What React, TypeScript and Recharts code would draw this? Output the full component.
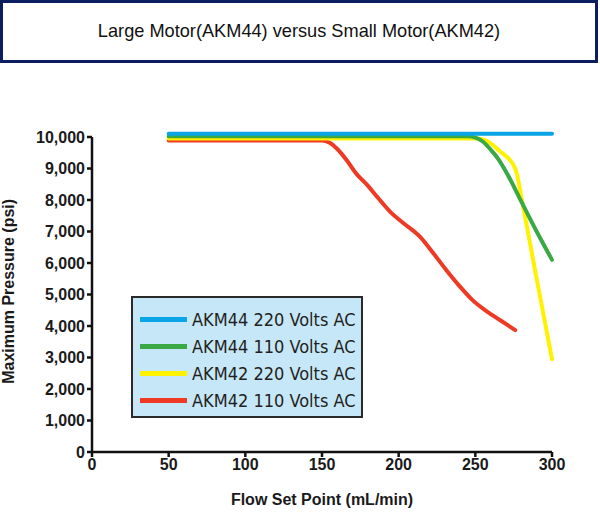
import { LineChart, Line, XAxis, YAxis, ReferenceLine } from "recharts";

type Pt = { flow: number; psi: number };

// readings taken off the reference plot
const akm44_220: Pt[] = [
  { flow: 50, psi: 10100 },
  { flow: 300, psi: 10100 },
];

const akm44_110: Pt[] = [
  { flow: 50, psi: 10020 },
  { flow: 245, psi: 10020 },
  { flow: 250, psi: 9980 },
  { flow: 255, psi: 9850 },
  { flow: 260, psi: 9600 },
  { flow: 265, psi: 9300 },
  { flow: 270, psi: 8900 },
  { flow: 280, psi: 7950 },
  { flow: 290, psi: 7000 },
  { flow: 300, psi: 6100 },
];

const akm42_220: Pt[] = [
  { flow: 50, psi: 9950 },
  { flow: 250, psi: 9950 },
  { flow: 255, psi: 9920 },
  { flow: 260, psi: 9800 },
  { flow: 266, psi: 9550 },
  { flow: 272, psi: 9300 },
  { flow: 275, psi: 9100 },
  { flow: 277, psi: 8850 },
  { flow: 280, psi: 8100 },
  { flow: 290, psi: 5500 },
  { flow: 300, psi: 2950 },
];

const akm42_110: Pt[] = [
  { flow: 50, psi: 9890 },
  { flow: 150, psi: 9890 },
  { flow: 155, psi: 9820 },
  { flow: 160, psi: 9620 },
  { flow: 166, psi: 9270 },
  { flow: 172, psi: 8860 },
  { flow: 180, psi: 8450 },
  { flow: 186, psi: 8100 },
  { flow: 195, psi: 7600 },
  { flow: 203, psi: 7270 },
  { flow: 214, psi: 6830 },
  { flow: 222, psi: 6350 },
  { flow: 231, psi: 5780 },
  { flow: 240, psi: 5250 },
  { flow: 248, psi: 4830 },
  { flow: 257, psi: 4480 },
  { flow: 266, psi: 4190 },
  { flow: 276, psi: 3870 },
];

const xTicks = [0, 50, 100, 150, 200, 250, 300];
const yTicks = [0, 1000, 2000, 3000, 4000, 5000, 6000, 7000, 8000, 9000, 10000];

const series = [
  { name: "AKM44 220 Volts AC", color: "#0aa5e6", data: akm44_220 },
  { name: "AKM44 110 Volts AC", color: "#3aa845", data: akm44_110 },
  { name: "AKM42 220 Volts AC", color: "#fff200", data: akm42_220 },
  { name: "AKM42 110 Volts AC", color: "#ee3a24", data: akm42_110 },
];

const axisColor = "#111";
const tickFont = { fontFamily: "Liberation Sans, Arial, sans-serif", fontSize: 16, fontWeight: 700, fill: "#1a1a1a" };

function LegendBox() {
  return (
    <div
      style={{
        position: "absolute",
        left: 131,
        top: 296,
        boxSizing: "border-box",
        width: 232,
        height: 122,
        border: "2px solid #2a2a2a",
        background: "#c6e7f8",
        padding: "8px 0 0 7px",
        fontFamily: "DejaVu Sans Condensed, DejaVu Sans, sans-serif",
        fontSize: 18,
        color: "#231f20",
      }}
    >
      {series.map((s) => (
        <div key={s.name} style={{ display: "flex", alignItems: "center", height: 27 }}>
          <span style={{ display: "inline-block", width: 47, height: 5, background: s.color, marginRight: 5 }} />
          <span style={{ whiteSpace: "nowrap" }}>{s.name}</span>
        </div>
      ))}
    </div>
  );
}

export default function App() {
  return (
    <div style={{ position: "absolute", left: 0, top: 0, width: 600, height: 517, background: "#fff" }}>
      <div
        style={{
          position: "absolute",
          left: 0,
          top: 0,
          width: 598,
          height: 63,
          boxSizing: "border-box",
          border: "3px solid #0b1f5e",
          display: "flex",
          alignItems: "center",
          justifyContent: "center",
          fontFamily: "Liberation Sans, Arial, sans-serif",
          fontSize: 18.2,
          color: "#111",
        }}
      >
        Large Motor(AKM44) versus Small Motor(AKM42)
      </div>
      <LineChart width={600} height={517} margin={{ top: 130.7, right: 48, bottom: 0, left: 0 }}>
        <XAxis
          type="number"
          dataKey="flow"
          domain={[0, 300]}
          ticks={xTicks}
          interval={0}
          height={65}
          tick={tickFont}
          tickSize={5}
          stroke={axisColor}
          strokeWidth={2.5}
          allowDuplicatedCategory={false}
          label={{
            value: "Flow Set Point (mL/min)",
            position: "insideBottom",
            offset: 12,
            style: { fontFamily: "Liberation Sans, Arial, sans-serif", fontSize: 16, fontWeight: 700, fill: "#1a1a1a" },
          }}
        />
        <YAxis
          type="number"
          dataKey="psi"
          domain={[0, 10200]}
          ticks={yTicks}
          interval={0}
          width={92}
          tick={tickFont}
          tickSize={5}
          axisLine={false}
          tickLine={{ stroke: axisColor, strokeWidth: 2.5 }}
          tickFormatter={(v: number) => v.toLocaleString("en-US")}
          label={{
            value: "Maximum Pressure (psi)",
            angle: -90,
            position: "insideLeft",
            offset: 8,
            style: { textAnchor: "middle", fontFamily: "Liberation Sans, Arial, sans-serif", fontSize: 16, fontWeight: 700, fill: "#1a1a1a" },
          }}
        />
        <ReferenceLine
          segment={[
            { x: 0, y: 0 },
            { x: 0, y: 10000 },
          ]}
          stroke={axisColor}
          strokeWidth={2.5}
          ifOverflow="visible"
        />
        {[...series].reverse().map((s) => (
          <Line
            key={s.name}
            data={s.data}
            dataKey="psi"
            name={s.name}
            type="monotone"
            stroke={s.color}
            strokeWidth={4}
            strokeLinecap="round"
            dot={false}
            activeDot={false}
            isAnimationActive={false}
          />
        ))}
      </LineChart>
      <LegendBox />
    </div>
  );
}
